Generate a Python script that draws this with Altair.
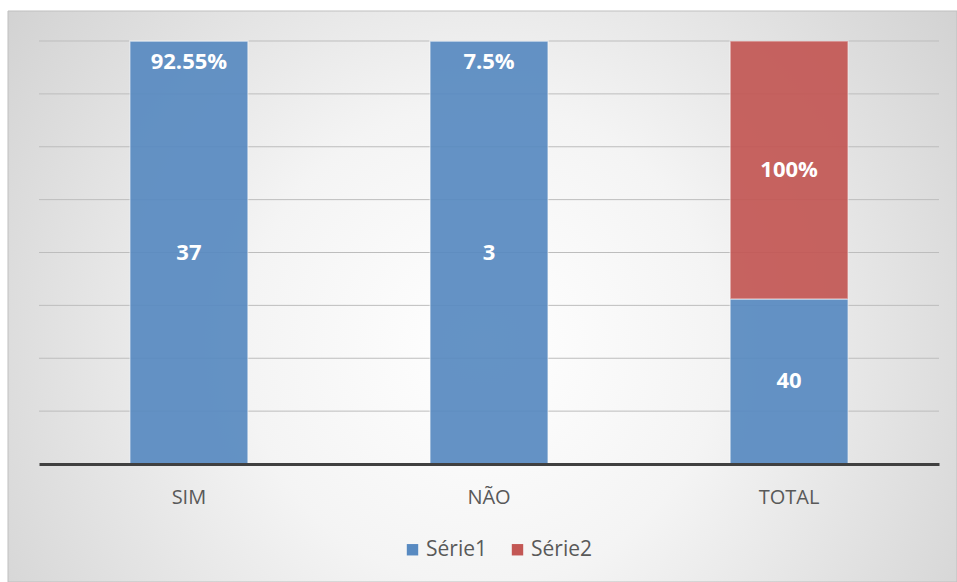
import altair as alt
import pandas as pd

categories = ["SIM", "NÃO", "TOTAL"]
serie1 = [37, 3, 40]
serie2 = [0.009255, 0.00075, 62.5]
labels1 = ["37", "3", "40"]
labels2 = ["92.55%", "7.5%", "100%"]
series_names = ["Série1", "Série2"]
series_colors = ["#588AC1", "#C35754"]
grid_vals = [0.125, 0.25, 0.375, 0.5, 0.625, 0.75, 0.875, 1.0]

rows = []
for c, a, b, la, lb in zip(categories, serie1, serie2, labels1, labels2):
    rows.append({"cat": c, "series": "Série1", "value": a, "label": la, "ord": 1})
    rows.append({"cat": c, "series": "Série2", "value": b, "label": lb, "ord": 2})
df = pd.DataFrame(rows)

W, H = 900, 423
PL, PT, PR, PB = 39, 41, 18, 118

x_axis = alt.Axis(title=None, labelAngle=0, ticks=False, domainColor="#404040",
                  domainWidth=3, labelColor="#595959", labelFontSize=20,
                  labelFont="Open Sans", labelPadding=23, zindex=1, grid=False)
x_scale = alt.Scale(paddingInner=0.607, paddingOuter=0.303)

bg = alt.Chart(alt.Data(values=[{"a": 1}])).mark_rect(
    fill=alt.RadialGradient(
        gradient="radial", x1=0.5, y1=0.55, r1=0, x2=0.5, y2=0.55, r2=0.72,
        stops=[alt.GradientStop(color="#ffffff", offset=0),
               alt.GradientStop(color="#f4f4f4", offset=0.35),
               alt.GradientStop(color="#c8c8c8", offset=1)]),
    stroke="#bfbfbf", strokeWidth=1,
).encode(x=alt.value(-31), x2=alt.value(957 - PL), y=alt.value(-30), y2=alt.value(582 - PT))

grid = alt.Chart(alt.Data(values=[{"g": v} for v in grid_vals])).mark_rule(
    color="#bdbdbd", strokeWidth=1
).encode(
    y=alt.Y("g:Q", scale=alt.Scale(domain=[0, 1]), axis=None),
    x=alt.value(0), x2=alt.value(W),
)

bars = alt.Chart(df).mark_bar(
    opacity=0.92, stroke="white", strokeOpacity=0.45, strokeWidth=1.5
).encode(
    x=alt.X("cat:N", sort=categories, scale=x_scale, axis=x_axis),
    y=alt.Y("value:Q", stack="normalize", scale=alt.Scale(domain=[0, 1]), axis=None),
    color=alt.Color("series:N", scale=alt.Scale(domain=series_names, range=series_colors),
                    legend=alt.Legend(title=None, orient="none", legendX=363, legendY=498,
                                      direction="horizontal", symbolType="square",
                                      symbolSize=130, labelFontSize=21, labelFont="Open Sans",
                                      labelColor="#595959", columnPadding=20, labelOffset=3,
                                      padding=0, zindex=1, symbolStrokeWidth=0,
                                      symbolOpacity=1)),
    order=alt.Order("ord:Q"),
)

text = alt.Chart(df).transform_joinaggregate(
    total="sum(value)", groupby=["cat"]
).transform_stack(
    stack="value", groupby=["cat"], as_=["v0", "v1"],
    sort=[alt.SortField("ord", order="ascending")]
).transform_calculate(
    pos="min((datum.v0 + datum.v1) / 2 / datum.total, 0.95)"
).mark_text(
    color="white", fontWeight="bold", fontSize=22, font="Open Sans", dy=0
).encode(
    x=alt.X("cat:N", sort=categories, scale=x_scale, axis=x_axis),
    y=alt.Y("pos:Q", scale=alt.Scale(domain=[0, 1]), axis=None),
    text="label:N",
)

chart = alt.layer(bg, grid, bars, text).properties(
    width=W, height=H,
    padding={"left": PL, "top": PT, "right": PR, "bottom": PB},
    autosize="none", background="white",
).configure_view(stroke=None)

chart.save("out.html", embed_options={"renderer": "svg", "actions": False})
